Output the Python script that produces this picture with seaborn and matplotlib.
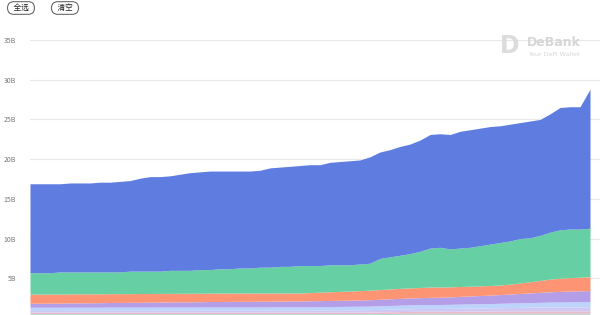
import numpy as np
import pandas as pd
import matplotlib
matplotlib.use("Agg")
import matplotlib.pyplot as plt
import seaborn as sns

# ---- data (billions USD), bottom layer first ----
teal = [0.55]*35 + [0.56, 0.57, 0.58, 0.59, 0.60] + [0.60]*17
pink = [0.20]*35 + [0.21, 0.22, 0.23, 0.24, 0.25,
                    0.25, 0.25, 0.25, 0.26, 0.27, 0.28, 0.29, 0.30, 0.30, 0.30,
                    0.30, 0.30, 0.30, 0.30, 0.30, 0.30, 0.30]
lavender = [0.20, 0.20, 0.20, 0.20, 0.21, 0.21, 0.21, 0.21, 0.22, 0.22,
            0.22, 0.22, 0.22, 0.23, 0.23, 0.23, 0.23, 0.23, 0.24, 0.24,
            0.24, 0.24, 0.24, 0.24, 0.25, 0.25, 0.25, 0.25, 0.26, 0.26,
            0.27, 0.28, 0.28, 0.29, 0.30, 0.31, 0.32, 0.33, 0.34, 0.34,
            0.35, 0.35, 0.36, 0.37, 0.37, 0.38, 0.39, 0.40, 0.42, 0.44,
            0.46, 0.48, 0.50, 0.50, 0.50, 0.50, 0.50]
lightblue = [0.40]*27 + [0.40, 0.41, 0.42, 0.42, 0.43, 0.44, 0.44, 0.45,
                         0.46, 0.47, 0.48, 0.48, 0.49, 0.50,
                         0.50, 0.51, 0.52, 0.53, 0.54, 0.54, 0.55,
                         0.56, 0.57, 0.58, 0.59, 0.60,
                         0.62, 0.63, 0.64, 0.65]
purple = [0.50, 0.51, 0.52, 0.53, 0.54, 0.55, 0.56, 0.57, 0.58, 0.59,
          0.60, 0.61, 0.62, 0.63, 0.64, 0.65, 0.66, 0.67, 0.68, 0.69,
          0.70, 0.70, 0.71, 0.72, 0.72, 0.73, 0.74, 0.75,
          0.75, 0.76, 0.77, 0.77, 0.78, 0.79, 0.80,
          0.82, 0.84, 0.85, 0.87, 0.88, 0.90,
          0.92, 0.94, 0.97, 1.00, 1.03, 1.06, 1.10,
          1.14, 1.18, 1.22, 1.26, 1.30,
          1.33, 1.36, 1.38, 1.40]
orange = [1.15, 1.15, 1.14, 1.14, 1.13, 1.13, 1.12, 1.12, 1.11, 1.11,
          1.10, 1.10, 1.09, 1.09, 1.08, 1.08, 1.07, 1.07, 1.06, 1.06,
          1.05, 1.05, 1.04, 1.04, 1.03, 1.02, 1.01, 1.00,
          1.03, 1.06, 1.09, 1.12, 1.15, 1.18, 1.20,
          1.22, 1.24, 1.26, 1.27, 1.28, 1.30,
          1.28, 1.26, 1.25, 1.23, 1.22, 1.21, 1.20,
          1.25, 1.32, 1.40, 1.50, 1.60,
          1.65, 1.70, 1.72, 1.75]
green = [2.70, 2.69, 2.69, 2.78, 2.77, 2.76, 2.76, 2.75, 2.74, 2.73,
         2.83, 2.82, 2.82, 2.80, 2.90, 2.89, 2.89, 2.98, 2.97, 3.06,
         3.06, 3.16, 3.16, 3.25, 3.25, 3.35, 3.35, 3.45, 3.40, 3.35,
         3.40, 3.35, 3.30, 3.35, 3.40, 3.92, 4.04, 4.17, 4.31, 4.56,
         4.90, 5.00, 4.78, 4.83, 4.90, 5.05, 5.21, 5.35, 5.43, 5.59,
         5.54, 5.67, 5.90, 6.10, 6.11, 6.06, 6.10]
blue = [11.2, 11.2, 11.2, 11.1, 11.2, 11.2, 11.2, 11.3, 11.3, 11.4,
        11.4, 11.7, 11.9, 11.9, 11.9, 12.1, 12.3, 12.3, 12.4, 12.3,
        12.3, 12.2, 12.2, 12.2, 12.5, 12.5, 12.6, 12.6, 12.7, 12.7,
        12.9, 13.0, 13.1, 13.1, 13.4, 13.4, 13.5, 13.7, 13.8, 14.0,
        14.3, 14.3, 14.4, 14.7, 14.8, 14.8, 14.8, 14.7, 14.7, 14.6,
        14.7, 14.6, 14.9, 15.4, 15.4, 15.4, 17.5]

layer_names = ["teal", "pink", "lavender", "lightblue", "purple", "orange", "green", "blue"]
layer_colors = ["#b8d8cc", "#e6bccd", "#d0c8f2", "#bcd4fb", "#b49ee8", "#fd9574", "#66d0a4", "#5f7de0"]
y_ticks = [5, 10, 15, 20, 25, 30, 35]
y_labels = ["5B", "10B", "15B", "20B", "25B", "30B", "35B"]
buttons = ["全选", "清空"]

df = pd.DataFrame({"teal": teal, "pink": pink, "lavender": lavender, "lightblue": lightblue,
                   "purple": purple, "orange": orange, "green": green, "blue": blue})
df["t"] = np.arange(len(df))

sns.set_theme(style="white")
plt.rcParams['font.family'] = ['Noto Sans CJK SC', 'DejaVu Sans']

fig = plt.figure(figsize=(6, 3.15), dpi=100)
ax = fig.add_axes([0.05, -3/315, 0.95, 278/315])

ax.stackplot(df["t"], *[df[n] for n in layer_names], colors=layer_colors,
             linewidth=0, zorder=2)
ax.set_xlim(0, 57)
ax.set_ylim(0, 35)
ax.set_yticks(y_ticks)
ax.set_yticklabels(y_labels, fontsize=5, color="#777777")
ax.set_xticks([])
ax.tick_params(axis="y", length=0, pad=10)
ax.yaxis.grid(True, color="#e8e8e8", linewidth=0.8, zorder=0)
for s in ax.spines.values():
    s.set_visible(False)

# buttons
for xc, txt in zip([21/600, 65/600], buttons):
    fig.text(xc, 1 - 8/315, "  " + txt + "  ", fontsize=5.5, ha="center", va="center",
             color="#222222",
             bbox=dict(boxstyle="round,pad=0.3,rounding_size=0.8",
                       facecolor="white", edgecolor="#555555", linewidth=0.7))

# watermark
fig.text(510/600, 1 - 46/315, "D", fontsize=17, fontweight="bold", color="#dcdcdc",
         ha="center", va="center", family="DejaVu Sans")
fig.text(527/600, 1 - 43/315, "DeBank", fontsize=9, fontweight="bold", color="#d6d6d6",
         ha="left", va="center", family="DejaVu Sans")
fig.text(528/600, 1 - 54/315, "Your DeFi Wallet", fontsize=4.6, color="#d6d6d6",
         ha="left", va="center", family="DejaVu Sans")

fig.savefig("out.png", dpi=100)
